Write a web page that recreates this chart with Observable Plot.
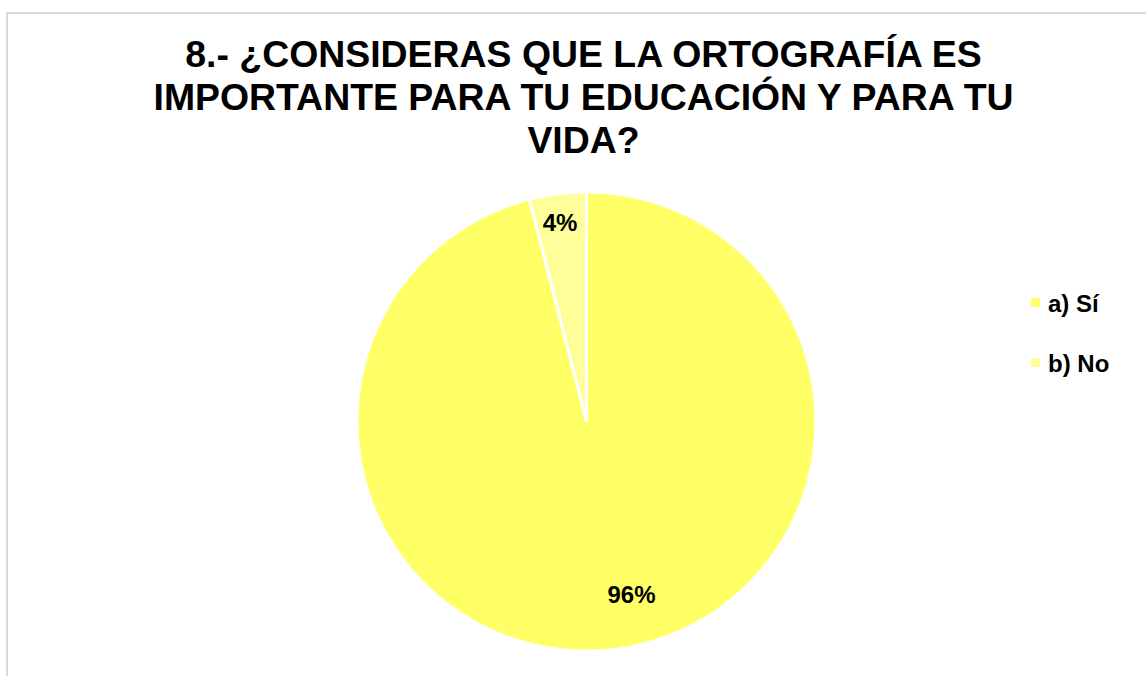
<!DOCTYPE html>
<html>
<head>
<meta charset="utf-8">
<script src="https://cdn.jsdelivr.net/npm/d3@7"></script>
<script src="https://cdn.jsdelivr.net/npm/@observablehq/plot@0.6"></script>
<style>
  html, body { margin: 0; padding: 0; background: #fff; overflow: hidden; }
  #wrap { position: relative; width: 1146px; height: 676px; overflow: hidden; font-family: "Liberation Sans", Arial, sans-serif; }
  #frame { position: absolute; left: 6px; top: 12px; width: 1300px; height: 800px; border: 2px solid #d9d9d9; box-sizing: border-box; }
  #chart { position: absolute; left: 0; top: 0; }
  #title { position: absolute; left: 83.5px; width: 1000px; top: 33.4px; text-align: center; font-weight: bold; font-size: 37.4px; line-height: 43px; color: #000; }
  .leg { position: absolute; left: 1031px; font-weight: bold; font-size: 24px; line-height: 24px; color: #000; white-space: nowrap; }
  .leg .sw { position: absolute; left: 0; width: 9px; height: 9px; }
  .leg .tx { position: absolute; left: 17px; top: 0; }
</style>
</head>
<body>
<div id="wrap">
  <div id="frame"></div>
  <div id="chart"></div>
  <div id="title"></div>
  <div id="legend"></div>
</div>
<script>
// ---- data ----
const titleLines = ["8.- ¿CONSIDERAS QUE LA ORTOGRAFÍA ES", "IMPORTANTE PARA TU EDUCACIÓN Y PARA TU", "VIDA?"];
const categories = ["a) Sí", "b) No"];
const values = [96, 4];
const labels = ["96%", "4%"];
const colors = ["#ffff66", "#ffff99"];

// ---- layout ----
const W = 1146, H = 676;
const cx = 586, cy = 421, R = 229.5;
// label placement (radius fraction, angular offset in degrees) like the spreadsheet's best-fit
const labelPlace = [{ r: 0.783, da: -7.3 }, { r: 0.872, da: -0.4 }];

const arcs = d3.pie().sort(null).value(d => d.v)(categories.map((c, i) => ({ c, v: values[i], i })));

const pts = [];
arcs.forEach(a => {
  const cat = a.data.c;
  pts.push({ cat, x: 0, y: 0 });
  const n = Math.max(4, Math.ceil((a.endAngle - a.startAngle) / (Math.PI / 360)));
  for (let k = 0; k <= n; k++) {
    const t = a.startAngle + (a.endAngle - a.startAngle) * k / n;
    pts.push({ cat, x: Math.sin(t), y: Math.cos(t) });
  }
});

const labelData = arcs.map((a, i) => {
  const mid = (a.startAngle + a.endAngle) / 2 + labelPlace[i].da * Math.PI / 180;
  const r = labelPlace[i].r;
  return { label: labels[i], x: r * Math.sin(mid), y: r * Math.cos(mid) };
});

const plot = Plot.plot({
  width: W,
  height: H,
  margin: 0,
  style: { background: "transparent", overflow: "visible" },
  x: { domain: [-cx / R, (W - cx) / R], range: [0, W], axis: null },
  y: { domain: [(cy - H) / R, cy / R], range: [H, 0], axis: null },
  color: { domain: categories, range: colors },
  marks: [
    Plot.line(pts, { x: "x", y: "y", z: "cat", fill: "cat", stroke: "white", strokeWidth: 3, strokeLinejoin: "miter", curve: "linear-closed" }),
    Plot.text(labelData, { x: "x", y: "y", text: "label", fontSize: 24, fontWeight: "bold", fill: "black", fontFamily: "Liberation Sans, Arial, sans-serif" })
  ]
});
document.getElementById("chart").appendChild(plot);

document.getElementById("title").innerHTML = titleLines.join("<br>");

const legTops = [291.7, 351.7];
const leg = document.getElementById("legend");
categories.forEach((c, i) => {
  const d = document.createElement("div");
  d.className = "leg";
  d.style.top = legTops[i] + "px";
  d.innerHTML = `<span class="sw" style="background:${colors[i]};top:${6.3}px"></span><span class="tx">${c}</span>`;
  leg.appendChild(d);
});
</script>
</body>
</html>
